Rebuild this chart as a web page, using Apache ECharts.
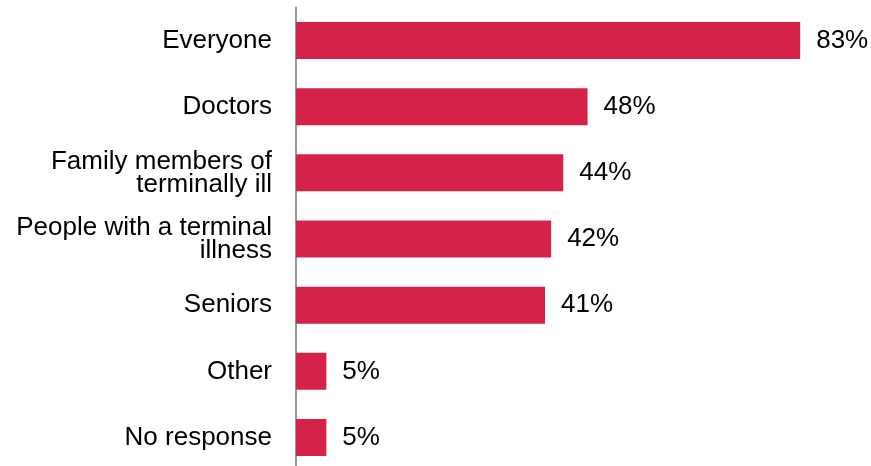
<!DOCTYPE html>
<html>
<head>
<meta charset="utf-8">
<script src="https://cdn.jsdelivr.net/npm/echarts@6/dist/echarts.min.js"></script>
<style>html,body{margin:0;padding:0;background:#fff;overflow:hidden;width:871px;height:466px;}#c{width:871px;height:474px;}</style>
</head>
<body>
<div id="c"></div>
<script>
const categories = ["Everyone", "Doctors", "Family members of\nterminally ill", "People with a terminal\nillness", "Seniors", "Other", "No response"];
const values = [83, 48, 44, 42, 41, 5, 5];

const chart = echarts.init(document.getElementById('c'), null, {renderer: 'canvas'});
chart.setOption({
  animation: false,
  backgroundColor: '#ffffff',
  grid: {left: 296, top: 7.4, height: 463.2, width: 546.7, containLabel: false},
  xAxis: {
    type: 'value', min: 0, max: 90, show: false
  },
  yAxis: {
    type: 'category', data: categories, inverse: true,
    axisTick: {show: false},
    axisLine: {lineStyle: {color: '#999999', width: 2}},
    axisLabel: {
      margin: 24, color: '#000000', fontSize: 26, lineHeight: 23,
      fontFamily: 'Liberation Sans, Arial, sans-serif', align: 'right'
    }
  },
  series: [{
    type: 'bar', data: values, barWidth: 37,
    itemStyle: {color: '#D42248'},
    label: {
      show: true, position: 'right', distance: 16, formatter: '{c}%',
      color: '#000000', fontSize: 26, fontFamily: 'Liberation Sans, Arial, sans-serif'
    }
  }]
});
</script>
</body>
</html>
